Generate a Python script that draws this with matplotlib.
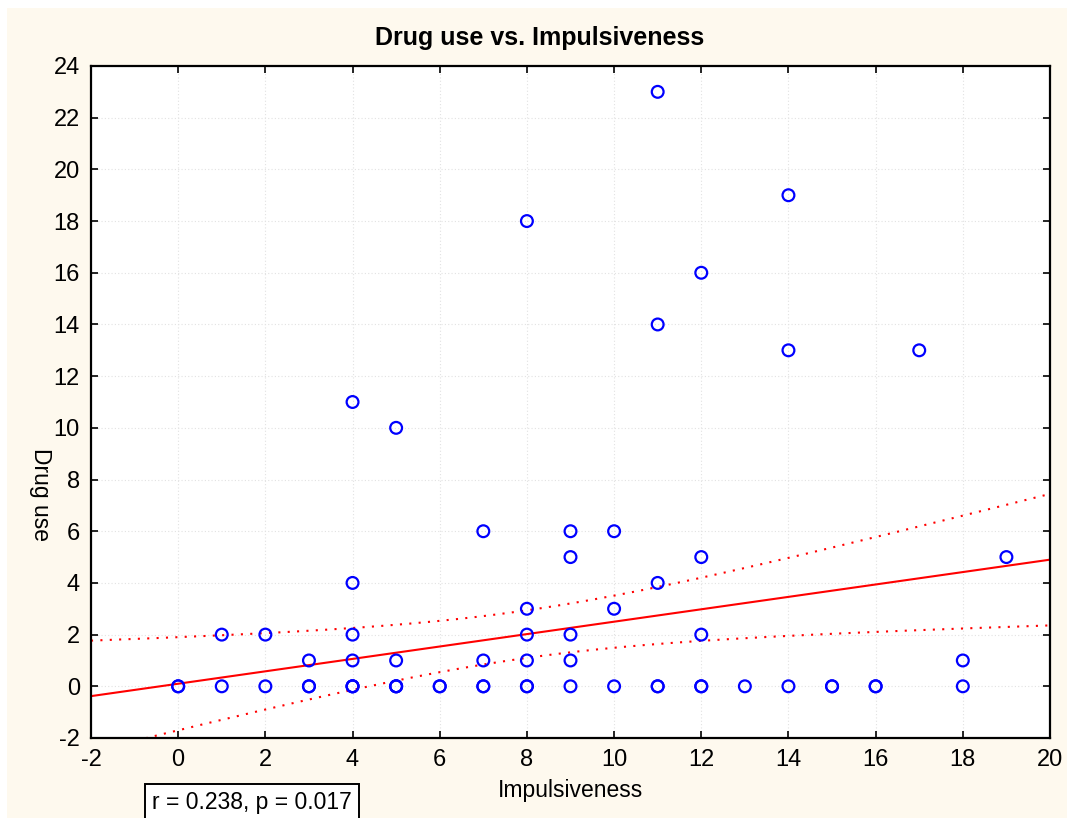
import matplotlib.pyplot as plt
import matplotlib.patches as mpatches
import numpy as np

plt.rcParams['font.family'] = ['Liberation Sans', 'DejaVu Sans']
plt.rcParams['axes.unicode_minus'] = False

# scatter points (impulsiveness, drug use); repeats are overlapping cases
impulsiveness = [0, 0, 1, 2, 3, 3, 4, 4, 4, 5, 5, 5, 6, 6, 7, 7, 8, 8, 9, 10, 11, 11, 12, 12,
                 13, 14, 15, 15, 16, 16, 18,
                 3, 4, 5, 7, 8, 9, 18,
                 1, 2, 4, 8, 9, 12,
                 8, 10,
                 4, 11,
                 9, 12, 19,
                 7, 9, 10,
                 5, 4, 14, 17, 11, 12, 8, 14, 11]
drug_use = [0, 0, 0, 0, 0, 0, 0, 0, 0, 0, 0, 0, 0, 0, 0, 0, 0, 0, 0, 0, 0, 0, 0, 0,
            0, 0, 0, 0, 0, 0, 0,
            1, 1, 1, 1, 1, 1, 1,
            2, 2, 2, 2, 2, 2,
            3, 3,
            4, 4,
            5, 5, 5,
            6, 6, 6,
            10, 11, 13, 13, 14, 16, 18, 19, 23]

# regression fit
intercept = 0.10
slope = 0.24
# 95% confidence band: half width = sqrt(h0^2 + k^2 (x - xm)^2)
band_xm = 7.9
band_h0 = 0.92
band_k = 0.196

fig = plt.figure(figsize=(10.67, 8.18), dpi=100)
fig.patch.set_facecolor('white')
fig.patches.append(mpatches.Rectangle((7 / 1067, 0), 1, 1 - 8 / 818, transform=fig.transFigure,
                                      facecolor='#FEF9EE', edgecolor='none', zorder=-10))

ax = fig.add_axes([91 / 1067, 1 - 738 / 818, 959 / 1067, 672 / 818])
ax.set_facecolor('white')

xs = np.linspace(-2, 20, 200)
fit = intercept + slope * xs
half = np.sqrt(band_h0 ** 2 + band_k ** 2 * (xs - band_xm) ** 2)
ax.plot(xs, fit, color='red', lw=1.5, zorder=2)
ax.plot(xs, fit + half, color='red', lw=1.5, ls=(0, (1, 3.5)), zorder=2)
ax.plot(xs, fit - half, color='red', lw=1.5, ls=(0, (1, 3.5)), zorder=2)

ax.scatter(impulsiveness, drug_use, s=72, facecolors='none', edgecolors='#0000FF',
           linewidths=1.6, zorder=3, clip_on=False)

ax.set_xlim(-2, 20)
ax.set_ylim(-2, 24)
ax.set_xticks(np.arange(-2, 21, 2))
ax.set_yticks(np.arange(-2, 25, 2))
ax.grid(True, color='#E2E2E2', ls=(0, (1, 2)), lw=0.8)
ax.set_axisbelow(True)
ax.tick_params(direction='in', length=5, width=1.2, labelsize=17, top=True, right=True,
               labeltop=False, labelright=False, pad=8)
for s in ax.spines.values():
    s.set_linewidth(1.6)

fig.text(540 / 1067, 1 - 38 / 818, 'Drug use vs. Impulsiveness', fontsize=18, fontweight='bold',
         ha='center', va='center')
ax.set_xlabel('Impulsiveness', fontsize=16.5, labelpad=6)
ax.set_ylabel('Drug use', fontsize=16.5, rotation=-90, labelpad=18)
ax.yaxis.set_label_coords(-0.065, 0.362)

fig.text(152 / 1067, 1 - 802 / 818, 'r = 0.238, p = 0.017', fontsize=16.5, va='center', ha='left',
         bbox=dict(boxstyle='square,pad=0.3', facecolor='white', edgecolor='black', lw=1.4))

fig.savefig('out.png', dpi=100, facecolor=fig.get_facecolor())
